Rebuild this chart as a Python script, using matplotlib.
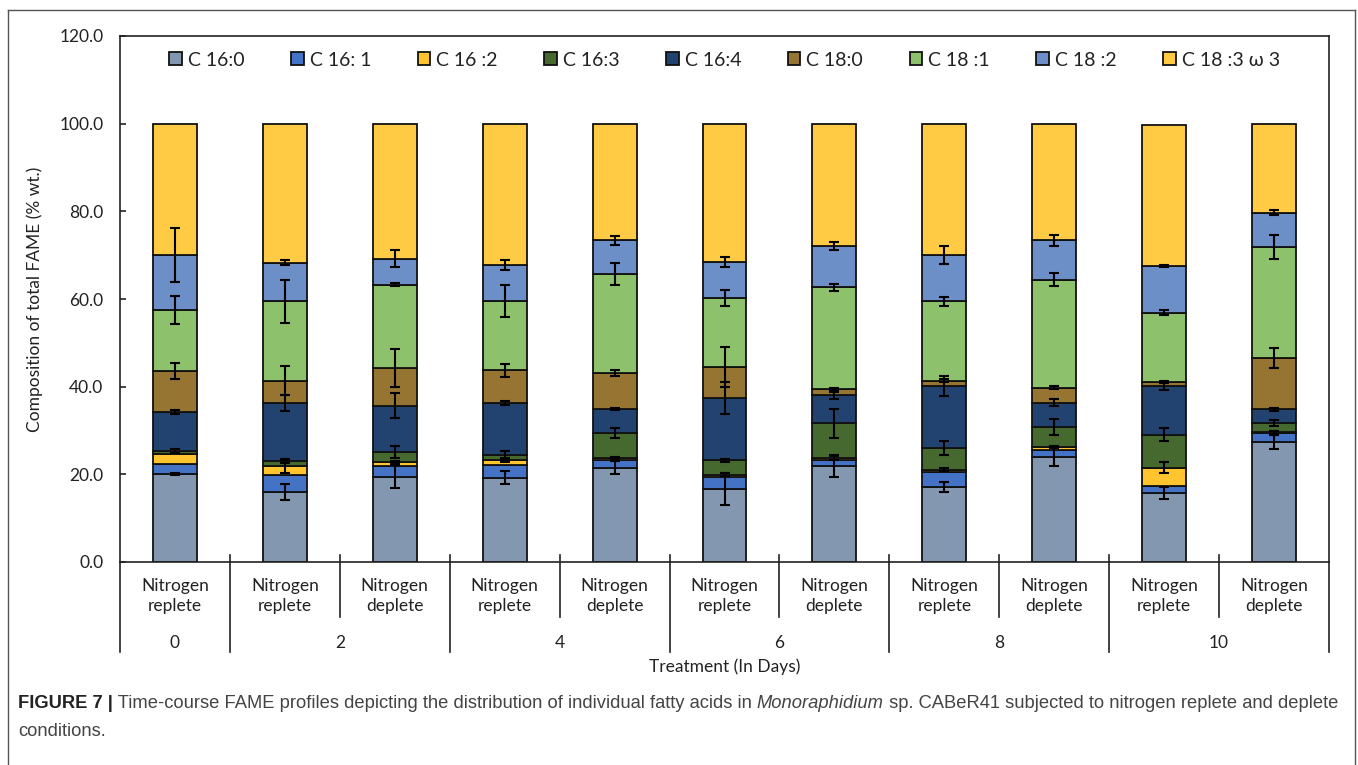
import matplotlib
matplotlib.use("Agg")
import matplotlib.pyplot as plt
import numpy as np
from matplotlib.lines import Line2D
from matplotlib.patches import Patch
import matplotlib.transforms as mtransforms

plt.rcParams['font.family'] = ['Lato', 'DejaVu Sans']

# ---------------- data ----------------
conditions = ["Nitrogen\nreplete", "Nitrogen\nreplete", "Nitrogen\ndeplete",
              "Nitrogen\nreplete", "Nitrogen\ndeplete", "Nitrogen\nreplete",
              "Nitrogen\ndeplete", "Nitrogen\nreplete", "Nitrogen\ndeplete",
              "Nitrogen\nreplete", "Nitrogen\ndeplete"]
days = ["0", "2", "4", "6", "8", "10"]
day_groups = [1, 2, 2, 2, 2, 2]   # number of bars per day

fatty_acids = ["C 16:0", "C 16: 1", "C 16 :2", "C 16:3", "C 16:4",
               "C 18:0", "C 18 :1", "C 18 :2", "C 18 :3 \u03c9 3"]

c16_0 = [20.0, 16.0, 19.5, 19.2, 21.5, 16.7, 21.9, 17.1, 24.0, 15.7, 27.4]
c16_1 = [2.4, 3.8, 2.3, 3.0, 1.7, 2.7, 1.3, 3.4, 1.6, 1.6, 2.0]
c16_2 = [2.2, 2.0, 1.0, 1.0, 0.5, 0.5, 0.5, 0.6, 0.6, 4.2, 0.2]
c16_3 = [0.7, 1.2, 2.3, 1.1, 5.7, 3.3, 7.9, 4.9, 4.6, 7.5, 2.1]
c16_4 = [8.9, 13.3, 10.6, 12.0, 5.5, 14.2, 6.4, 14.1, 5.5, 11.1, 3.1]
c18_0 = [9.3, 5.1, 8.6, 7.4, 8.2, 7.1, 1.5, 1.3, 3.5, 1.0, 11.7]
c18_1 = [13.9, 18.1, 19.0, 15.8, 22.7, 15.7, 23.2, 18.1, 24.6, 15.8, 25.4]
c18_2 = [12.6, 8.8, 5.9, 8.3, 7.6, 8.2, 9.3, 10.5, 9.0, 10.6, 7.8]
c18_3 = [30.0, 31.7, 30.8, 32.2, 26.6, 31.6, 28.0, 30.0, 26.6, 32.1, 20.3]

err16_0 = [0.2, 1.8, 2.7, 1.5, 1.5, 3.6, 2.4, 1.2, 2.0, 1.4, 1.6]
err16_1 = [0.0, 0.0, 0.0, 0.0, 0.0, 0.0, 0.0, 0.0, 0.0, 0.0, 0.5]
err16_2 = [0.0, 1.4, 0.3, 0.5, 0.3, 0.3, 0.4, 0.3, 0.3, 1.2, 0.3]
err16_3 = [0.5, 0.5, 1.3, 1.0, 1.2, 0.3, 3.4, 1.5, 1.8, 1.5, 0.6]
err16_4 = [0.5, 1.8, 2.8, 0.5, 0.3, 3.7, 0.8, 2.3, 0.8, 0.8, 0.3]
err18_0 = [1.8, 3.4, 4.3, 1.4, 0.6, 4.5, 0.3, 0.3, 0.3, 0.3, 2.3]
err18_1 = [3.2, 4.9, 0.3, 3.6, 2.5, 1.9, 0.8, 1.0, 1.5, 0.6, 2.8]
err18_2 = [6.2, 0.5, 2.0, 1.2, 1.0, 1.2, 0.9, 2.0, 1.3, 0.3, 0.5]
err18_3 = [0.0] * 11

series = [c16_0, c16_1, c16_2, c16_3, c16_4, c18_0, c18_1, c18_2, c18_3]
errors = [err16_0, err16_1, err16_2, err16_3, err16_4, err18_0, err18_1, err18_2, err18_3]
colors = ["#8497B0", "#4472C4", "#FFC42E", "#46692F", "#22426F",
          "#967431", "#8DC16B", "#6C8FC8", "#FFCB45"]

# ---------------- figure ----------------
W, H = 1358, 765
fig = plt.figure(figsize=(W / 100, H / 100), dpi=100)
ax_l, ax_r, ax_b, ax_t = 120, 1329, 562, 36
ax = fig.add_axes([ax_l / W, (H - ax_b) / H, (ax_r - ax_l) / W, (ax_b - ax_t) / H])

x = np.arange(len(conditions))
bottom = np.zeros(len(conditions))
for vals, errs, col, lab in zip(series, errors, colors, fatty_acids):
    vals = np.array(vals)
    ax.bar(x, vals, width=0.4, bottom=bottom, color=col, edgecolor="#111111",
           linewidth=1.3, label=lab, zorder=2)
    top = bottom + vals
    errs = np.array(errs)
    m = errs > 0
    if m.any():
        ax.errorbar(x[m], top[m], yerr=errs[m], fmt='none', ecolor='black',
                    elinewidth=1.5, capsize=3.5, capthick=1.5, zorder=4)
    bottom = top

ax.set_xlim(-0.5, len(conditions) - 0.5)
ax.set_ylim(0, 120)
ax.set_yticks(np.arange(0, 121, 20))
ax.set_yticklabels([f"{v:.1f}" for v in np.arange(0, 121, 20)], fontsize=12.5, color="#222222")
ax.tick_params(axis='y', direction='in', length=4, width=1.2, pad=12, color="#222222")
ax.set_xticks([])
for s in ["left", "bottom", "top", "right"]:
    ax.spines[s].set_color("#222222")
    ax.spines[s].set_linewidth(1.2)

ax.set_ylabel("Composition of total FAME (% wt.)", fontsize=12.5, color="#222222", labelpad=12)

# multi-level category axis
ph = ax_b - ax_t
def ay(ypix):
    return (ax_b - ypix) / ph

trans = mtransforms.blended_transform_factory(ax.transData, ax.transAxes)
for i, lab in enumerate(conditions):
    ax.text(i, ay(596), lab, transform=trans, ha='center', va='center',
            fontsize=12.5, color="#222222", linespacing=1.3)

edges = [-0.5]
for n in day_groups:
    edges.append(edges[-1] + n)
for e in edges:
    ax.add_line(Line2D([e, e], [ay(562), ay(652)], transform=trans, color="#222222",
                       lw=1.2, clip_on=False))
for e in edges[1:-1]:
    ax.add_line(Line2D([e, e], [ay(555), ay(562)], transform=trans, color="#222222",
                       lw=1.2, clip_on=False))
# minor separators within day groups
for k in range(len(day_groups)):
    if day_groups[k] > 1:
        e = edges[k] + 1
        ax.add_line(Line2D([e, e], [ay(555), ay(617)], transform=trans, color="#222222",
                           lw=1.2, clip_on=False))
for k, d in enumerate(days):
    c = (edges[k] + edges[k + 1]) / 2
    ax.text(c, ay(643), d, transform=trans, ha='center', va='center',
            fontsize=12.5, color="#222222")

ax.text(0.5, ay(667), "Treatment (In Days)", transform=ax.transAxes, ha='center',
        va='center', fontsize=12.5, color="#222222")

# legend
handles = [Patch(facecolor=c, edgecolor='#111111', linewidth=1.3) for c in colors]
leg = ax.legend(handles, fatty_acids, loc='center', bbox_to_anchor=(0.5, ay(60)),
                ncol=9, frameon=False, fontsize=14, handlelength=0.65, handleheight=0.65,
                handletextpad=0.3, columnspacing=2.4, borderaxespad=0)
for t in leg.get_texts():
    t.set_color("#222222")

# outer frame
fig.add_artist(Line2D([8 / W, 8 / W], [0, 1 - 10 / H], transform=fig.transFigure,
                      color="#555555", lw=1.0))
fig.add_artist(Line2D([8 / W, 1355 / W], [1 - 10 / H, 1 - 10 / H], transform=fig.transFigure,
                      color="#555555", lw=1.0))
fig.add_artist(Line2D([1355 / W, 1355 / W], [0, 1 - 10 / H], transform=fig.transFigure,
                      color="#555555", lw=1.0))

# caption
renderer = fig.canvas.get_renderer()
cap_font = ['Liberation Sans', 'DejaVu Sans']
pieces = [("FIGURE 7 |", 'bold', 'normal', "#222222"),
          (" Time-course FAME profiles depicting the distribution of individual fatty acids in ", 'normal', 'normal', "#444444"),
          ("Monoraphidium", 'normal', 'italic', "#444444"),
          (" sp. CABeR41 subjected to nitrogen replete and deplete", 'normal', 'normal', "#444444")]
xpos = 18
ypos = H - 703
for txt, wgt, sty, col in pieces:
    t = fig.text(xpos / W, ypos / H, txt, fontsize=13.25, fontweight=wgt, fontstyle=sty,
                 family=cap_font, color=col, ha='left', va='center')
    bb = t.get_window_extent(renderer=renderer)
    xpos += bb.width
fig.text(18 / W, (H - 731) / H, "conditions.", fontsize=13.25, family=cap_font,
         color="#444444", ha='left', va='center')

fig.savefig("out.png", dpi=100)
